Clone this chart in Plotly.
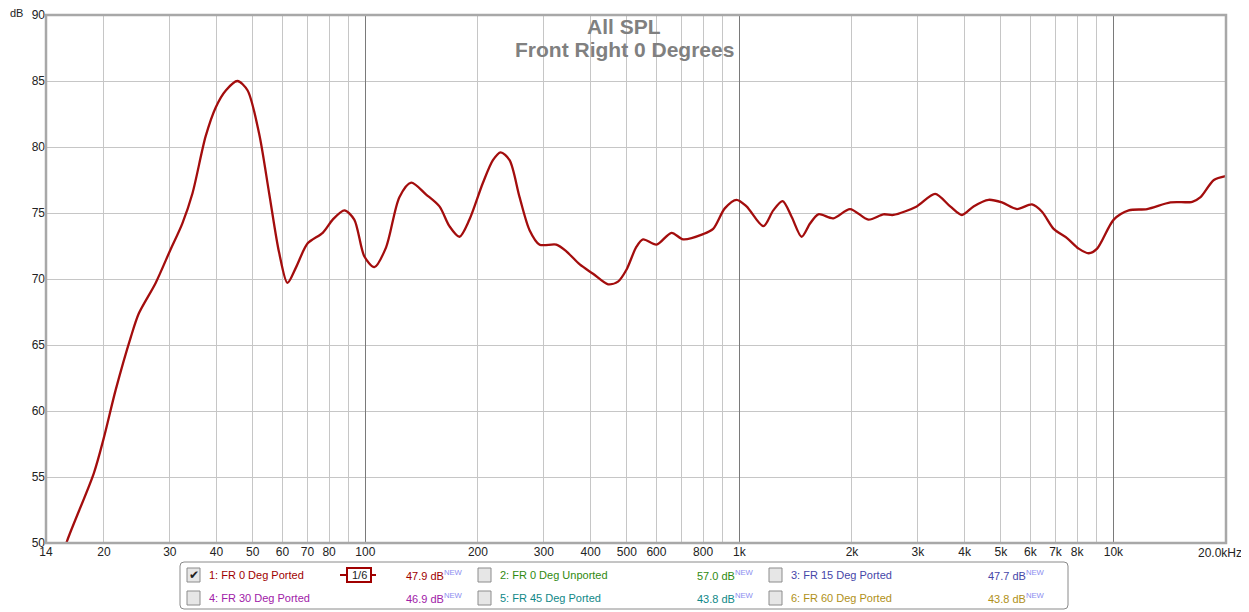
import numpy as np
import plotly.graph_objects as go

# ---- data ----
freq_hz = [15.0, 15.96, 18.8, 20.0, 21.5, 23.6, 24.8, 27.5, 30.1, 32.4, 34.5, 37.4, 39.8,
           42.4, 45.5, 48.4, 52.0, 55.3, 58.8, 61.9, 65.3, 70.1, 76.9, 81.8, 87.9, 93.4,
           99.4, 105.7, 113.6, 123.3, 132.6, 145.4, 157.8, 167.8, 178.5, 189.8, 206, 219.3,
           229.9, 243, 258.4, 274.8, 292.4, 324, 344.6, 374.3, 406.2, 445.7, 473.7, 498.9,
           530.7, 552.7, 600.3, 658.4, 707.4, 800, 851, 914, 983, 1045, 1159, 1232, 1305,
           1380, 1467, 1545, 1626, 1783, 1976, 2212, 2427, 2581, 2980, 3337, 3661, 3935,
           4227, 4637, 5035, 5523, 6058, 6442, 6921, 7516, 8077, 8590, 9046, 10020, 10990,
           12310, 14210, 16250, 17100, 18560, 19950]
spl_db = [47.8, 50.2, 55.3, 58.0, 61.6, 65.6, 67.4, 69.7, 72.2, 74.2, 76.5, 80.8, 83.0,
          84.3, 85.0, 84.3, 81.0, 76.5, 72.0, 69.7, 70.9, 72.7, 73.5, 74.5, 75.2, 74.5,
          71.7, 70.9, 72.4, 76.2, 77.3, 76.4, 75.5, 74.0, 73.2, 74.5, 77.25, 79.0,
          79.6, 79.0, 76.2, 73.7, 72.6, 72.6, 72.1, 71.1, 70.4, 69.6, 69.8, 70.7,
          72.45, 73.0, 72.6, 73.5, 73.0, 73.4, 73.8, 75.35, 76.0, 75.5, 74.0, 75.2, 75.9,
          74.7, 73.2, 74.2, 74.9, 74.6, 75.3, 74.5, 74.9, 74.85, 75.5, 76.45, 75.5, 74.85,
          75.5, 76.0, 75.8, 75.3, 75.65, 75.1, 73.8, 73.1, 72.3, 71.95, 72.3, 74.5, 75.2,
          75.3, 75.8, 75.85, 76.2, 77.5, 77.8]

x_tick_vals = [14, 20, 30, 40, 50, 60, 70, 80, 100, 200, 300, 400, 500, 600, 800,
               1000, 2000, 3000, 4000, 5000, 6000, 7000, 8000, 10000, 20000]
x_tick_text = ["14", "20", "30", "40", "50", "60", "70", "80", "100", "200", "300", "400",
               "500", "600", "800", "1k", "2k", "3k", "4k", "5k", "6k", "7k", "8k", "10k",
               ""]
x_end_label = "20.0kHz"
x_minor_vals = [90, 700, 900, 9000]
x_decade_vals = [100, 1000, 10000]
y_tick_vals = [50, 55, 60, 65, 70, 75, 80, 85, 90]
y_unit = "dB"

title_lines = ["All SPL", "Front Right 0 Degrees"]
legend_names = ["1: FR 0 Deg Ported", "2: FR 0 Deg Unported", "3: FR 15 Deg Ported",
                "4: FR 30 Deg Ported", "5: FR 45 Deg Ported", "6: FR 60 Deg Ported"]
legend_values = ["47.9 dB", "57.0 dB", "47.7 dB", "46.9 dB", "43.8 dB", "43.8 dB"]
legend_colors = ["#a00000", "#2f8a10", "#4646a8", "#a020a8", "#108888", "#b09018"]
legend_checked = [True, False, False, False, False, False]

# page body has an 8px default margin: work in window pixels, convert to figure pixels
OFF = 8
W, H = 1249 - OFF, 612 - OFF
L, R, T, B = 46 - OFF, 1226 - OFF, 15 - OFF, 543 - OFF
FONT = "Liberation Sans, Arial, sans-serif"


def px(x):
    return (x - OFF - L) / (R - L)


def py(y):
    return (B - (y - OFF)) / (B - T)


fig = go.Figure()
# dummy trace to activate the decade-grid overlay axis
fig.add_trace(go.Scatter(x=[1000], y=[None], xaxis="x2", showlegend=False, hoverinfo="skip"))
fig.add_trace(go.Scatter(x=freq_hz, y=spl_db, mode="lines",
                         line=dict(color="#a30d0d", width=2.3, shape="spline", smoothing=0.8),
                         hoverinfo="x+y", showlegend=False))

xr = [np.log10(14), np.log10(20000)]
fig.update_layout(
    width=W, height=H,
    margin=dict(l=L, r=W - R, t=T, b=H - B, pad=0, autoexpand=False),
    paper_bgcolor="white", plot_bgcolor="white",
    showlegend=False,
    font=dict(family=FONT, size=12, color="#222222"),
    xaxis=dict(type="log", range=xr, tickvals=x_tick_vals, ticktext=x_tick_text,
               showgrid=True, gridcolor="#c6c6c6", gridwidth=1, zeroline=False,
               ticks="", showline=False, automargin=False, ticklabeloverflow="allow",
               tickfont=dict(size=12, color="#222222"),
               minor=dict(tickvals=x_minor_vals, showgrid=True, gridcolor="#c6c6c6",
                          gridwidth=1, ticks="")),
    xaxis2=dict(type="log", range=xr, overlaying="x", tickvals=x_decade_vals,
                showticklabels=False, showgrid=True, gridcolor="#7a7a7a", gridwidth=1,
                ticks="", zeroline=False, showline=False, automargin=False),
    yaxis=dict(range=[50, 90], tickvals=y_tick_vals, showgrid=True, gridcolor="#c6c6c6",
               gridwidth=1, zeroline=False, ticks="", showline=False, automargin=False,
               ticklabeloverflow="allow", tickfont=dict(size=12, color="#222222")),
)

shapes = []
annotations = []

# plot frame
shapes.append(dict(type="rect", xref="paper", yref="paper", x0=0, x1=1, y0=0, y1=1,
                   line=dict(color="#a8a8a8", width=2.5), layer="above"))

# dB unit label (placed beside the top tick, as high as the page allows)
annotations.append(dict(text=y_unit, xref="paper", yref="paper", x=px(25), y=py(13),
                        xanchor="right", yanchor="middle", showarrow=False,
                        font=dict(size=11, color="#222222")))

# last x label, right-aligned so that it stays inside the window
annotations.append(dict(text=x_end_label, xref="paper", yref="paper", x=px(1244), y=py(553),
                        xanchor="right", yanchor="middle", showarrow=False,
                        font=dict(size=12, color="#222222")))

# titles
for i, t in enumerate(title_lines):
    annotations.append(dict(text="<b>" + t + "</b>", xref="paper", yref="paper",
                            x=px(624), y=py(26 + 23 * i), xanchor="center", yanchor="middle",
                            showarrow=False, font=dict(size=21, color="#808080", family=FONT)))

# legend panel
shapes.append(dict(type="path", xref="paper", yref="paper",
                   path=(f"M {px(184)},{py(562)} L {px(1064)},{py(562)} "
                         f"Q {px(1068)},{py(562)} {px(1068)},{py(566)} "
                         f"L {px(1068)},{py(605)} Q {px(1068)},{py(609)} {px(1064)},{py(609)} "
                         f"L {px(184)},{py(609)} Q {px(180)},{py(609)} {px(180)},{py(605)} "
                         f"L {px(180)},{py(566)} Q {px(180)},{py(562)} {px(184)},{py(562)} Z"),
                   line=dict(color="#8a8a8a", width=1), fillcolor="white"))

for i, name in enumerate(legend_names):
    row, col = divmod(i, 3)
    yc = 575 + 23 * row
    cb = 187 + 291 * col
    lx = 207 + 291 * col
    vx = 404 + 291 * col
    c = legend_colors[i]
    shapes.append(dict(type="rect", xref="paper", yref="paper",
                       x0=px(cb), x1=px(cb + 13), y0=py(yc - 7), y1=py(yc + 7),
                       line=dict(color="#8c8c8c", width=1), fillcolor="#e6e6e6"))
    if legend_checked[i]:
        annotations.append(dict(text="✔", xref="paper", yref="paper", x=px(cb + 6.5), y=py(yc),
                                xanchor="center", yanchor="middle", showarrow=False,
                                font=dict(size=12, color="#202020", family="DejaVu Sans")))
    annotations.append(dict(text=name, xref="paper", yref="paper", x=px(lx), y=py(yc),
                            xanchor="left", yanchor="middle", showarrow=False,
                            font=dict(size=11, color=c)))
    annotations.append(dict(text=legend_values[i] +
                            "<sup><span style='color:#8c8cf0'>NEW</span></sup>",
                            xref="paper", yref="paper", x=px(vx), y=py(yc),
                            xanchor="left", yanchor="middle", showarrow=False,
                            font=dict(size=11, color=c)))

# smoothing indicator next to the first entry
shapes.append(dict(type="line", xref="paper", yref="paper", x0=px(340), x1=px(376),
                   y0=py(575), y1=py(575), line=dict(color="#a00000", width=2)))
shapes.append(dict(type="rect", xref="paper", yref="paper", x0=px(347), x1=px(371),
                   y0=py(582), y1=py(568), line=dict(color="#a00000", width=2),
                   fillcolor="white"))
annotations.append(dict(text="1/6", xref="paper", yref="paper", x=px(359), y=py(575),
                        xanchor="center", yanchor="middle", showarrow=False,
                        font=dict(size=11, color="#222222")))

fig.update_layout(shapes=shapes, annotations=annotations)
fig.write_html("out.html")
